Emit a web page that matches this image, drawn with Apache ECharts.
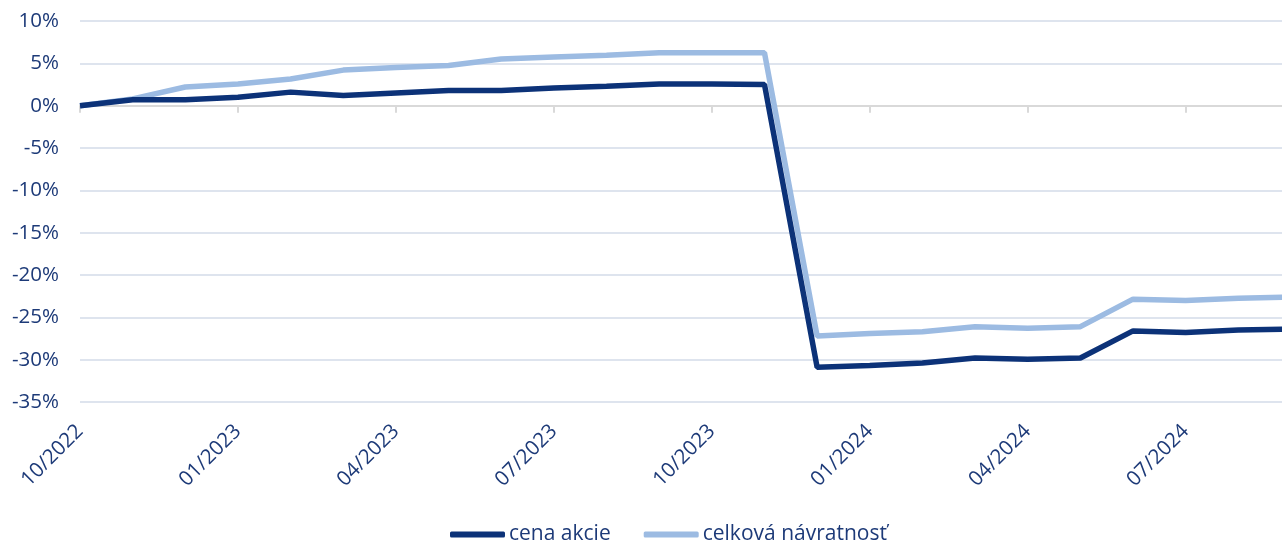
<!DOCTYPE html>
<html>
<head>
<meta charset="utf-8">
<script src="https://cdn.jsdelivr.net/npm/echarts@6/dist/echarts.min.js"></script>
<style>
  html, body { margin: 0; padding: 0; background: #fff; overflow: hidden; }
  #chart { width: 1282px; height: 542px; }
</style>
</head>
<body>
<div id="chart"></div>
<script>
// months from 10/2022 to 09/2024
const months = [
  '10/2022', '11/2022', '12/2022', '01/2023', '02/2023', '03/2023',
  '04/2023', '05/2023', '06/2023', '07/2023', '08/2023', '09/2023',
  '10/2023', '11/2023', '12/2023', '01/2024', '02/2024', '03/2024',
  '04/2024', '05/2024', '06/2024', '07/2024', '08/2024', '09/2024'
];

// values in %
const cenaAkcie = [
  0, 0.7, 0.7, 1.0, 1.6, 1.2, 1.5, 1.8, 1.8, 2.1, 2.3, 2.55,
  2.55, 2.5, -30.9, -30.7, -30.4, -29.8, -29.95, -29.8, -26.6, -26.8, -26.5, -26.4
];
const celkovaNavratnost = [
  0, 0.8, 2.2, 2.55, 3.15, 4.2, 4.5, 4.75, 5.5, 5.75, 5.95, 6.25,
  6.25, 6.25, -27.2, -26.9, -26.7, -26.1, -26.3, -26.1, -22.85, -23.0, -22.75, -22.6
];

const textColor = '#1d3a78';
const font = '"Open Sans", sans-serif';

const chart = echarts.init(document.getElementById('chart'));

chart.setOption({
  animation: false,
  // plot runs a little past the right edge, like the original
  grid: {
    left: 80, width: 1211, top: 21, bottom: 140,
    containLabel: false,
    outerBoundsMode: 'none'
  },
  legend: {
    top: 524,
    left: 450,
    padding: 0,
    itemWidth: 55,
    itemHeight: 6,
    itemGap: 33,
    icon: 'roundRect',
    textStyle: { color: textColor, fontSize: 21, fontFamily: font, padding: [0, 0, 0, -1] },
    data: ['cena akcie', 'celková návratnosť']
  },
  xAxis: [
    {
      type: 'category',
      data: months,
      boundaryGap: false,
      axisLine: { onZero: true, lineStyle: { color: '#d9d9d9', width: 2 } },
      axisTick: { show: true, interval: 2, length: 7, lineStyle: { color: '#d9d9d9', width: 2 } },
      axisLabel: { show: false },
      splitLine: { show: false }
    },
    {
      type: 'category',
      data: months,
      boundaryGap: false,
      position: 'bottom',
      axisLine: { show: false, onZero: false },
      axisTick: { show: false },
      axisLabel: {
        interval: 2,
        rotate: 45,
        margin: 26,
        color: textColor,
        fontSize: 20.5,
        fontFamily: font
      },
      splitLine: { show: false }
    }
  ],
  yAxis: {
    type: 'value',
    min: -35,
    max: 10,
    interval: 5,
    axisLine: { show: false },
    axisTick: { show: false },
    axisLabel: {
      formatter: '{value}%',
      color: textColor,
      fontSize: 20.5,
      fontFamily: font,
      margin: 21
    },
    splitLine: { lineStyle: { color: '#d3dbe8', width: 1.5 } }
  },
  series: [
    {
      name: 'celková návratnosť',
      type: 'line',
      xAxisIndex: 0,
      data: celkovaNavratnost,
      symbol: 'none',
      lineStyle: { color: '#9cbbe2', width: 5.5 },
      itemStyle: { color: '#9cbbe2' },
      z: 2
    },
    {
      name: 'cena akcie',
      type: 'line',
      xAxisIndex: 0,
      data: cenaAkcie,
      symbol: 'none',
      lineStyle: { color: '#0c3278', width: 5.5 },
      itemStyle: { color: '#0c3278' },
      z: 3
    }
  ]
});
</script>
</body>
</html>
